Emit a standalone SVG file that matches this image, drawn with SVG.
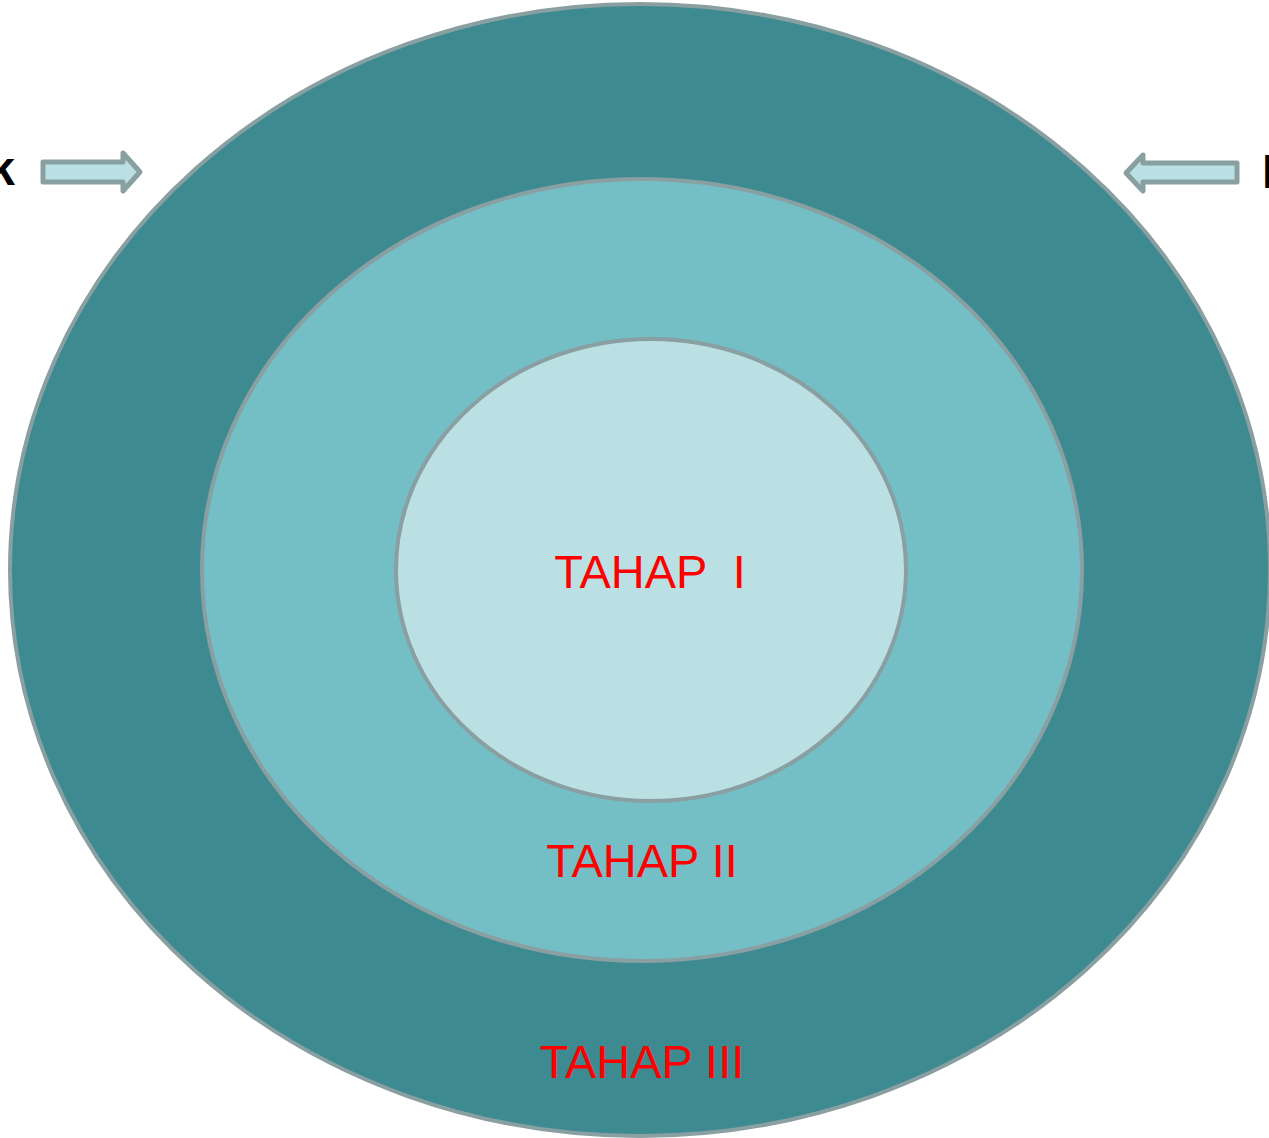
<svg xmlns="http://www.w3.org/2000/svg" width="1269" height="1138" viewBox="0 0 1269 1138">
<style>
.ring{stroke:#899fa1;stroke-width:4}
.lbl{font-family:"Liberation Sans",Arial,sans-serif;font-size:47px;fill:#ff0000;text-anchor:middle}
.side{font-family:"Liberation Sans",Arial,sans-serif;font-size:48px;font-weight:bold;fill:#000}
.arrow{fill:#bbe0e3;stroke:#88a0a2;stroke-width:5;stroke-linejoin:round}
</style>
<rect width="1269" height="1138" fill="#fff"/>
<g id="tahap3">
<ellipse class="ring" cx="640" cy="570" rx="630" ry="566" fill="#3d8b91"/>
<text class="lbl" x="642" y="1078">TAHAP III</text>
</g>
<g id="tahap2">
<ellipse class="ring" cx="642" cy="570" rx="440" ry="391" fill="#74bec5"/>
<text class="lbl" x="642" y="877">TAHAP II</text>
</g>
<g id="tahap1">
<ellipse class="ring" cx="651" cy="570" rx="255" ry="231" fill="#bae0e4"/>
<text class="lbl" x="650" y="588" xml:space="preserve">TAHAP  I</text>
</g>
<g id="connectors">
<path class="arrow" d="M43,162 L123,162 L123,153 L140,172 L123,191 L123,182 L43,182 Z"/>
<path class="arrow" d="M1237,163 L1143,163 L1143,155 L1126,173 L1143,191 L1143,182 L1237,182 Z"/>
</g>
<g id="left-label"><text class="side" x="15" y="185" text-anchor="end">k</text></g>
<g id="right-label"><text class="side" x="1262" y="188">I</text></g>
</svg>
